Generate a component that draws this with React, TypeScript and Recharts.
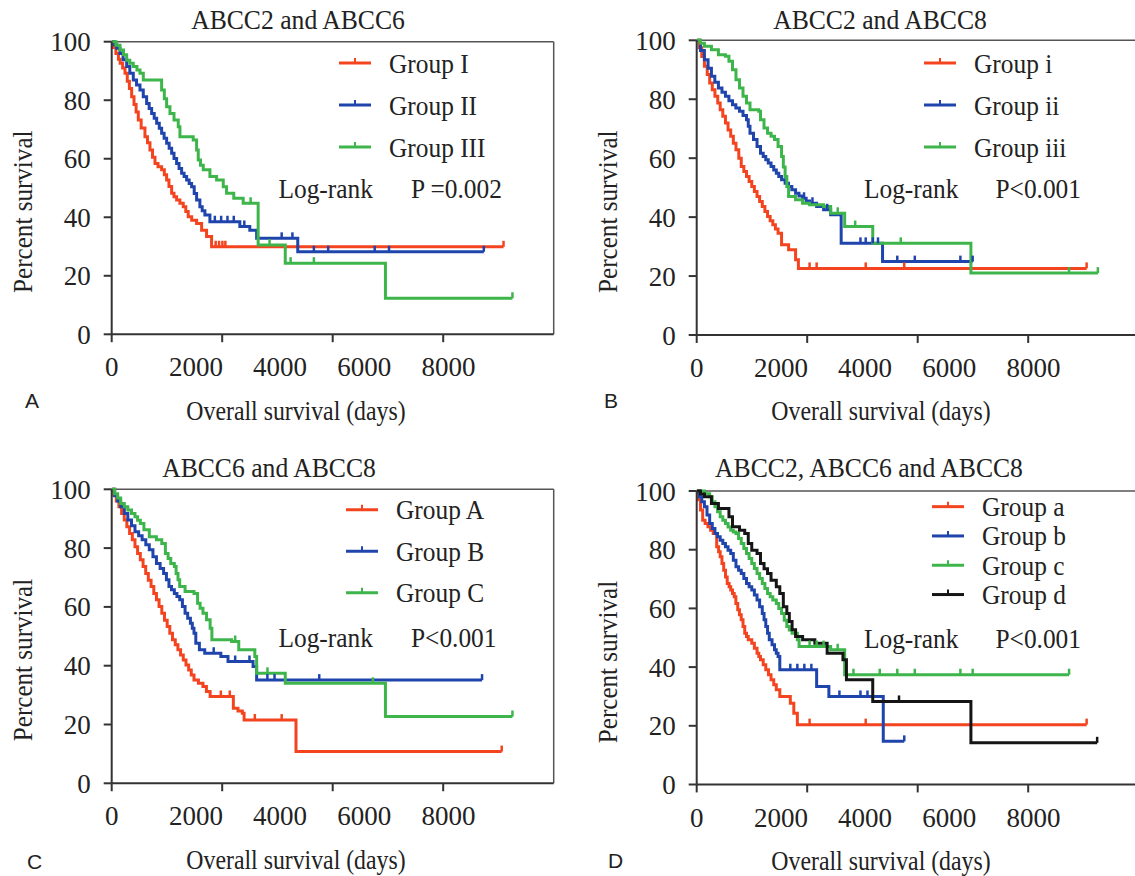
import React from 'react';
import { LineChart, Line, XAxis, YAxis, ReferenceLine, Legend } from 'recharts';

const FONT = '"Liberation Serif", "Times New Roman", serif';
const X_MAX = 10500;
const X_TICKS = [0, 2000, 4000, 6000, 8000];
const Y_TICKS = [0, 20, 40, 60, 80, 100];
const MARKS = [0, 0.25, 0.5, 0.75];

const RED = '#f4441f';
const BLUE = '#1f45ad';
const GREEN = '#3db54b';
const BLACK = '#151515';

// A: ABCC2 and ABCC6
const aIDays = [0, 40, 100, 160, 200, 260, 316, 370, 420, 474, 530, 580, 632, 700, 790, 850, 909, 970, 1028, 1100, 1186, 1250, 1305, 1360, 1424, 1480, 1542, 1620, 1700, 1760, 1818, 1900, 2017, 2136, 2254, 2373];
const aISurv = [100, 98, 96, 94, 92.6, 91, 89.2, 86.5, 84, 81.2, 78.5, 76, 73.2, 70.5, 67.5, 65.5, 63, 60.5, 58.4, 57.3, 56.2, 54.5, 52.7, 50.5, 48.2, 47, 45.9, 44.8, 43.6, 42, 40.2, 39, 37.9, 35.6, 33.4, 29.9];
const aICens = [2470, 2550, 2630, 2700, 9308];
const aIIDays = [0, 60, 120, 197, 270, 356, 430, 513, 590, 672, 750, 830, 890, 949, 1010, 1068, 1130, 1186, 1245, 1305, 1365, 1424, 1480, 1542, 1600, 1661, 1720, 1780, 1840, 1898, 1960, 2017, 2095, 2150, 2214, 2333, 3044, 3281, 3443, 4420];
const aIISurv = [100, 99, 97.8, 96, 93.8, 91.5, 89.2, 86.9, 85.2, 83.5, 81.2, 78.9, 77.2, 75.5, 73.8, 72.1, 70.4, 68.7, 67, 65.3, 63.6, 61.9, 60.1, 58.4, 56.7, 55, 53.9, 52.7, 51.5, 50.4, 48.1, 45.9, 43.6, 42.2, 40.8, 38.5, 36.8, 35.6, 32.8, 28.2];
const aIICens = [2450, 2600, 2750, 2900, 3150, 4038, 4293, 4803, 5143, 6248, 6588, 8840];
const aIIIDays = [0, 100, 197, 280, 356, 430, 513, 600, 672, 751, 1186, 1250, 1305, 1384, 1480, 1581, 1621, 1937, 2017, 2056, 2110, 2175, 2333, 2492, 2650, 2729, 2900, 3123, 3479, 4123, 6503];
const aIIISurv = [100, 98.8, 97.2, 95.5, 93.7, 92.6, 91.5, 90.3, 89.2, 86.9, 83.5, 80.5, 77.8, 75.5, 73.2, 70.9, 67.5, 66.4, 63, 59.6, 57.8, 56.2, 53.9, 52.7, 50.4, 48.2, 46.5, 44.8, 30.5, 24.3, 12.3];
const aIIICens = [3300, 3750, 4250, 4803, 9520];

// B: ABCC2 and ABCC8
const bIDays = [0, 60, 120, 183, 250, 308, 370, 433, 500, 558, 620, 683, 745, 808, 870, 933, 1000, 1058, 1120, 1183, 1245, 1308, 1370, 1433, 1495, 1558, 1620, 1683, 1745, 1808, 1870, 1933, 2016, 2183, 2349, 2416];
const bISurv = [100, 97.5, 94.5, 91.2, 88.4, 85.5, 83.2, 81, 78.7, 76.4, 74.2, 71.9, 69.6, 67.4, 65.1, 62.9, 60, 57.2, 55.5, 53.8, 52.1, 50.4, 48.7, 47, 45.3, 43.6, 41.9, 40.2, 38.8, 37.4, 36, 34.5, 30.6, 28.9, 25.5, 22.6];
const bICens = [2682, 2849, 4015, 4931, 9263];
const bIIDays = [0, 90, 183, 270, 350, 430, 516, 600, 683, 765, 850, 930, 1016, 1100, 1183, 1225, 1266, 1349, 1433, 1516, 1580, 1641, 1700, 1766, 1830, 1891, 1950, 2016, 2100, 2182, 2260, 2349, 2430, 2516, 2600, 2682, 2849, 3015, 3182, 3432, 4415];
const bIISurv = [100, 96.5, 93.4, 90.5, 87.8, 85.8, 83.8, 82.4, 81, 79.5, 78.1, 77, 75.9, 74.5, 73, 70.8, 68.5, 66.3, 64, 61.7, 60.6, 59.5, 58.4, 57.2, 56, 54.9, 53.8, 52.7, 51.5, 50.4, 49.3, 48.1, 47.2, 46.4, 45.5, 44.7, 43.6, 42.5, 40.8, 31.1, 24.9];
const bIICens = [2550, 2750, 3100, 3890, 4015, 4182, 4307, 4765, 5181, 6264, 6556];
const bIIIDays = [0, 90, 183, 350, 516, 683, 766, 850, 933, 1016, 1100, 1183, 1266, 1474, 1516, 1599, 1683, 1766, 1849, 1933, 2016, 2058, 2100, 2141, 2183, 2349, 2516, 2682, 3015, 3182, 3515, 4182, 6514];
const bIIISurv = [100, 99, 98, 96.8, 95.1, 94.6, 92.9, 90, 86.6, 83.8, 81, 78.7, 76.4, 75.9, 73, 70.2, 68.5, 67.4, 66.3, 64, 60.6, 57, 53.8, 50.4, 47, 45.9, 44.7, 44.2, 43.6, 41.3, 36.8, 31.1, 21];
const bIIICens = [3350, 3765, 4848, 8846, 9530];

// C: ABCC6 and ABCC8
const cADays = [0, 50, 110, 170, 235, 298, 360, 425, 490, 553, 615, 680, 745, 808, 870, 935, 1000, 1063, 1125, 1190, 1255, 1318, 1380, 1445, 1510, 1573, 1636, 1700, 1765, 1828, 1890, 1955, 2060, 2168, 2250, 2338, 2890, 3000, 3103, 3145, 4378];
const cASurv = [100, 98, 96, 94.1, 91.8, 89.6, 87.3, 85, 82.8, 80.5, 78.2, 76, 73.7, 71.4, 69.1, 66.9, 64.6, 62.4, 60.1, 57.8, 55.5, 53.3, 51, 48.8, 47.1, 45.4, 43.6, 41.9, 40.2, 38.5, 36.8, 35.1, 34, 32.9, 31.2, 29.5, 25.5, 24.6, 23.8, 21.5, 10.8];
const cACens = [2593, 2805, 3400, 4038, 9265];
const cBDays = [0, 70, 140, 213, 300, 383, 470, 553, 640, 723, 810, 893, 980, 1063, 1150, 1233, 1300, 1360, 1420, 1488, 1550, 1615, 1680, 1743, 1805, 1870, 1915, 1955, 1998, 2083, 2210, 2593, 2763, 3358, 3443];
const cBSurv = [100, 97.8, 96, 94.1, 91.8, 89.6, 87.6, 85.6, 84.2, 82.8, 81.1, 79.4, 77.1, 74.8, 73.1, 71.4, 69.2, 66.9, 65.8, 64.6, 63.5, 62.4, 60.1, 57.8, 56.1, 54.4, 52.7, 51, 47.6, 45.4, 44.2, 43.1, 41.4, 39.7, 35.1];
const cBCens = [2423, 2933, 3273, 3698, 3868, 4930, 8798];
const cCDays = [0, 70, 140, 213, 300, 383, 470, 553, 615, 680, 765, 893, 1063, 1190, 1275, 1340, 1403, 1488, 1530, 1575, 1615, 1743, 1955, 2040, 2100, 2168, 2253, 2338, 2380, 2848, 3018, 3400, 3443, 4123, 6503];
const cCSurv = [100, 98.5, 97, 95.2, 94.1, 93, 91.8, 90.7, 89.5, 88.4, 86.2, 83.9, 82.8, 81.6, 78.2, 76.5, 74.8, 73.7, 71.4, 69.2, 66.9, 65.2, 64.6, 61.2, 59.5, 57.8, 55.6, 52.7, 48.8, 48.2, 45.4, 43.1, 37.4, 34, 22.7];
const cCCens = [2933, 3700, 6205, 9520];

// D: ABCC2, ABCC6 and ABCC8
const dADays = [0, 40, 90, 142, 200, 267, 330, 392, 475, 520, 558, 600, 641, 685, 725, 770, 808, 850, 891, 930, 975, 1015, 1058, 1100, 1141, 1183, 1225, 1308, 1370, 1433, 1475, 1516, 1580, 1641, 1705, 1766, 1830, 1891, 1974, 2224, 2307, 2391];
const dASurv = [100, 97, 93.5, 90, 88.9, 87.8, 86.6, 85.5, 81, 79.3, 77.6, 75.3, 73, 70.7, 68.5, 67.4, 66.3, 65.1, 64, 61.7, 59.5, 57.8, 56.1, 53.8, 51.5, 50.4, 49.3, 48.1, 46.4, 44.7, 43.6, 42.5, 40.8, 39.1, 37.4, 35.7, 34, 32.3, 30, 27.7, 24.3, 20.4];
const dACens = [2682, 4015, 9263];
const dBDays = [0, 60, 120, 183, 245, 308, 370, 433, 495, 558, 620, 683, 745, 808, 870, 933, 995, 1058, 1120, 1183, 1245, 1308, 1370, 1433, 1495, 1558, 1600, 1641, 1683, 1724, 1790, 1849, 1890, 1933, 1974, 2849, 3140, 4432];
const dBSurv = [100, 98, 96.3, 94.6, 91.8, 88.9, 87.2, 85.5, 84.4, 83.2, 82.1, 81, 79.8, 78.7, 76.4, 74.2, 73, 71.9, 70.2, 68.5, 67.4, 66.3, 64.6, 62.9, 60.6, 58.3, 56.1, 53.8, 51.5, 49.3, 47.6, 45.9, 44.7, 43.6, 39.1, 33.4, 30, 14.7];
const dBCens = [2224, 2391, 2557, 2724, 3390, 3890, 4057, 4931];
const dCDays = [0, 183, 308, 370, 433, 495, 558, 620, 683, 745, 808, 870, 933, 995, 1058, 1120, 1183, 1245, 1308, 1370, 1433, 1495, 1558, 1620, 1683, 1745, 1808, 1891, 1950, 2016, 2080, 2141, 2200, 2266, 2391, 2432, 3182, 3515];
const dCSurv = [100, 99.1, 98, 96.3, 94.6, 92.9, 91.2, 90, 88.9, 87.7, 86.6, 86, 85.5, 83.8, 82.1, 80.4, 78.7, 77, 75.3, 73.6, 71.9, 70.2, 68.5, 66.8, 65.1, 64, 62.9, 61.7, 60, 58.3, 56, 53.8, 52.6, 51.5, 49.3, 47, 45.9, 37.4];
const dCCens = [2682, 2849, 3015, 3349, 3724, 4348, 4765, 5181, 6264, 6556, 8846];
const dDDays = [0, 90, 183, 350, 516, 766, 850, 1016, 1141, 1225, 1308, 1433, 1516, 1600, 1683, 1766, 1891, 1974, 2058, 2141, 2200, 2266, 2349, 2516, 2807, 3099, 3474, 3557, 4182, 6514];
const dDSurv = [100, 99, 98, 95.7, 94, 91.2, 87.8, 86.6, 85.5, 82.1, 79.8, 78.7, 75.3, 73.5, 71.9, 69.6, 67.4, 65.1, 60.6, 58.3, 55.5, 52.7, 50.4, 49.3, 48.1, 44.7, 42.5, 35.7, 28.3, 14.2];
const dDCens = [4806, 9513];

type Pt = { t: number; s: number; c: boolean };

// merge event steps with censor times (censored points sit on the current level)
function km(days: number[], surv: number[], cens: number[]): Pt[] {
  const pts: Pt[] = days.map((t, i) => ({ t, s: surv[i], c: false }));
  cens.forEach((t) => {
    let s = surv[0];
    days.forEach((d, i) => {
      if (d <= t) s = surv[i];
    });
    pts.push({ t, s, c: true });
  });
  return pts.sort((a, b) => a.t - b.t);
}

const censorDot = (p: any) =>
  p.payload && p.payload.c ? (
    <line key={`c${p.index}`} x1={p.cx} x2={p.cx} y1={p.cy - 6} y2={p.cy} stroke={p.stroke} strokeWidth={2.5} />
  ) : (
    <g key={`n${p.index}`} />
  );

const panels = [
  {
    id: 'A', ox: 0, oy: 0, h: 440, top: 41.7, bottom: 334.3, legendX: 339, legendY: 63, gap: 42,
    groups: [
      { name: 'Group I', color: RED, data: km(aIDays, aISurv, aICens) },
      { name: 'Group II', color: BLUE, data: km(aIIDays, aIISurv, aIICens) },
      { name: 'Group III', color: GREEN, data: km(aIIIDays, aIIISurv, aIIICens) },
    ],
  },
  {
    id: 'B', ox: 585, oy: 0, h: 440, top: 40.3, bottom: 335, legendX: 924, legendY: 63, gap: 42,
    groups: [
      { name: 'Group i', color: RED, data: km(bIDays, bISurv, bICens) },
      { name: 'Group ii', color: BLUE, data: km(bIIDays, bIISurv, bIICens) },
      { name: 'Group iii', color: GREEN, data: km(bIIIDays, bIIISurv, bIIICens) },
    ],
  },
  {
    id: 'C', ox: 0, oy: 440, h: 436, top: 489.3, bottom: 783.3, legendX: 346, legendY: 510, gap: 41.5,
    groups: [
      { name: 'Group A', color: RED, data: km(cADays, cASurv, cACens) },
      { name: 'Group B', color: BLUE, data: km(cBDays, cBSurv, cBCens) },
      { name: 'Group C', color: GREEN, data: km(cCDays, cCSurv, cCCens) },
    ],
  },
  {
    id: 'D', ox: 585, oy: 440, h: 436, top: 491, bottom: 784.5, legendX: 932, legendY: 507, gap: 29.3,
    groups: [
      { name: 'Group a', color: RED, data: km(dADays, dASurv, dACens) },
      { name: 'Group b', color: BLUE, data: km(dBDays, dBSurv, dBCens) },
      { name: 'Group c', color: GREEN, data: km(dCDays, dCSurv, dCCens) },
      { name: 'Group d', color: BLACK, data: km(dDDays, dDSurv, dDCens) },
    ],
  },
];

const titles = [
  { text: 'ABCC2 and ABCC6', x: 298, y: 29 },
  { text: 'ABCC2 and ABCC8', x: 880, y: 29 },
  { text: 'ABCC6 and ABCC8', x: 269, y: 477 },
  { text: 'ABCC2, ABCC6 and ABCC8', x: 869, y: 477 },
];

const stats = [
  { p: 'P =0.002', x1: 278.5, x2: 411, y: 198 },
  { p: 'P<0.001', x1: 864, x2: 995.5, y: 198 },
  { p: 'P<0.001', x1: 278.5, x2: 411, y: 647 },
  { p: 'P<0.001', x1: 864, x2: 995.5, y: 648 },
];

// squeezed serif text, the figure's lettering is narrower than Liberation Serif
const SText = ({ x, y, size, sx = 1, rot = 0, anchor = 'start', children }: any) => (
  <text
    transform={`translate(${x} ${y}) rotate(${rot}) scale(${sx} 1)`}
    fontSize={size}
    fontFamily={FONT}
    fill="#222"
    textAnchor={anchor}
  >
    {children}
  </text>
);

const XTick = (p: any) => (
  <text x={p.x} y={p.y} dy={19} textAnchor="middle" fontSize={27} fontFamily={FONT} fill="#222">
    {p.payload.value}
  </text>
);

const YTick = (p: any) => (
  <text x={p.x} y={p.y} dy={9.5} textAnchor="end" fontSize={27} fontFamily={FONT} fill="#222">
    {p.payload.value}
  </text>
);

const LegendBox = ({ payload, gap }: { payload?: any[]; gap: number }) => {
  const items = payload || [];
  return (
    <svg width={220} height={items.length * gap} style={{ overflow: 'visible', display: 'block' }}>
      {items.map((it, i) => {
        const y = gap / 2 + i * gap;
        return (
          <g key={i}>
            <line x1={0} x2={32} y1={y} y2={y} stroke={it.color} strokeWidth={3} />
            <line x1={16} x2={16} y1={y - 5} y2={y} stroke={it.color} strokeWidth={2} />
            <SText x={50} y={y + 9.5} size={27} sx={0.94}>
              {it.value}
            </SText>
          </g>
        );
      })}
    </svg>
  );
};

const axisStyle = { stroke: '#333', strokeWidth: 2 };

const Panel = ({ cfg }: { cfg: (typeof panels)[number] }) => (
  <div style={{ position: 'absolute', left: cfg.ox, top: cfg.oy }}>
    <LineChart
      width={570}
      height={cfg.h}
      margin={{ top: cfg.top - cfg.oy, left: 51.7, right: 16.3, bottom: cfg.h - (cfg.bottom - cfg.oy) - 30 }}
    >
      <XAxis
        type="number"
        dataKey="t"
        domain={[0, X_MAX]}
        ticks={X_TICKS}
        interval={0}
        allowDataOverflow
        height={30}
        tickLine={false}
        tickSize={8}
        tickMargin={15}
        axisLine={axisStyle}
        tick={<XTick />}
      />
      <YAxis
        type="number"
        domain={[0, 100]}
        ticks={Y_TICKS}
        interval={0}
        width={60}
        tickSize={8}
        tickMargin={13}
        tickLine={axisStyle}
        axisLine={axisStyle}
        tick={<YTick />}
      />
      <ReferenceLine y={100} stroke="#555" strokeWidth={1.5} />
      <ReferenceLine x={X_MAX} stroke="#555" strokeWidth={1.5} />
      {MARKS.map((m) => (
        <ReferenceLine
          key={m}
          segment={[{ x: X_MAX * m, y: 0 }, { x: X_MAX * m, y: -2.7 }]}
          ifOverflow="visible"
          stroke="#333"
          strokeWidth={2}
        />
      ))}
      {cfg.groups.map((g) => (
        <Line
          key={g.name}
          name={g.name}
          data={g.data}
          dataKey="s"
          type="stepAfter"
          stroke={g.color}
          strokeWidth={3}
          dot={censorDot}
          activeDot={false}
          isAnimationActive={false}
        />
      ))}
      <Legend
        layout="vertical"
        align="center"
        verticalAlign="middle"
        wrapperStyle={{ left: cfg.legendX - cfg.ox, top: cfg.legendY - cfg.gap / 2 - cfg.oy, width: 220 }}
        content={(props: any) => <LegendBox payload={props.payload} gap={cfg.gap} />}
      />
    </LineChart>
  </div>
);

const xLabels = [
  { x: 296, y: 420 },
  { x: 881, y: 420 },
  { x: 296, y: 869 },
  { x: 881, y: 870 },
];
const yLabels = [
  { x: 32, y: 211.7 },
  { x: 617, y: 211.7 },
  { x: 32, y: 660 },
  { x: 617, y: 662 },
];

export default function App() {
  return (
    <div
      style={{
        position: 'absolute',
        left: 0,
        top: 0,
        width: 1135,
        height: 876,
        overflow: 'hidden',
        background: '#fff',
      }}
    >
      {panels.map((p) => (
        <Panel key={p.id} cfg={p} />
      ))}
      <svg width={1135} height={876} style={{ position: 'absolute', left: 0, top: 0, pointerEvents: 'none' }}>
        {titles.map((t) => (
          <SText key={t.text} x={t.x} y={t.y} size={27} sx={0.95} anchor="middle">
            {t.text}
          </SText>
        ))}
        {stats.map((s, i) => (
          <g key={i}>
            <SText x={s.x1} y={s.y} size={27} sx={0.94}>
              Log-rank
            </SText>
            <SText x={s.x2} y={s.y} size={27} sx={0.94}>
              {s.p}
            </SText>
          </g>
        ))}
        {xLabels.map((l, i) => (
          <SText key={`x${i}`} x={l.x} y={l.y} size={28} sx={0.85} anchor="middle">
            Overall survival (days)
          </SText>
        ))}
        {yLabels.map((l, i) => (
          <SText key={`y${i}`} x={l.x} y={l.y} size={27} sx={0.93} rot={-90} anchor="middle">
            Percent survival
          </SText>
        ))}
        <g fontFamily='"Liberation Sans", Arial, sans-serif' fontSize={21} fill="#222">
          <text x={25} y={408}>A</text>
          <text x={604} y={408}>B</text>
          <text x={27} y={869}>C</text>
          <text x={608} y={868}>D</text>
        </g>
      </svg>
    </div>
  );
}
